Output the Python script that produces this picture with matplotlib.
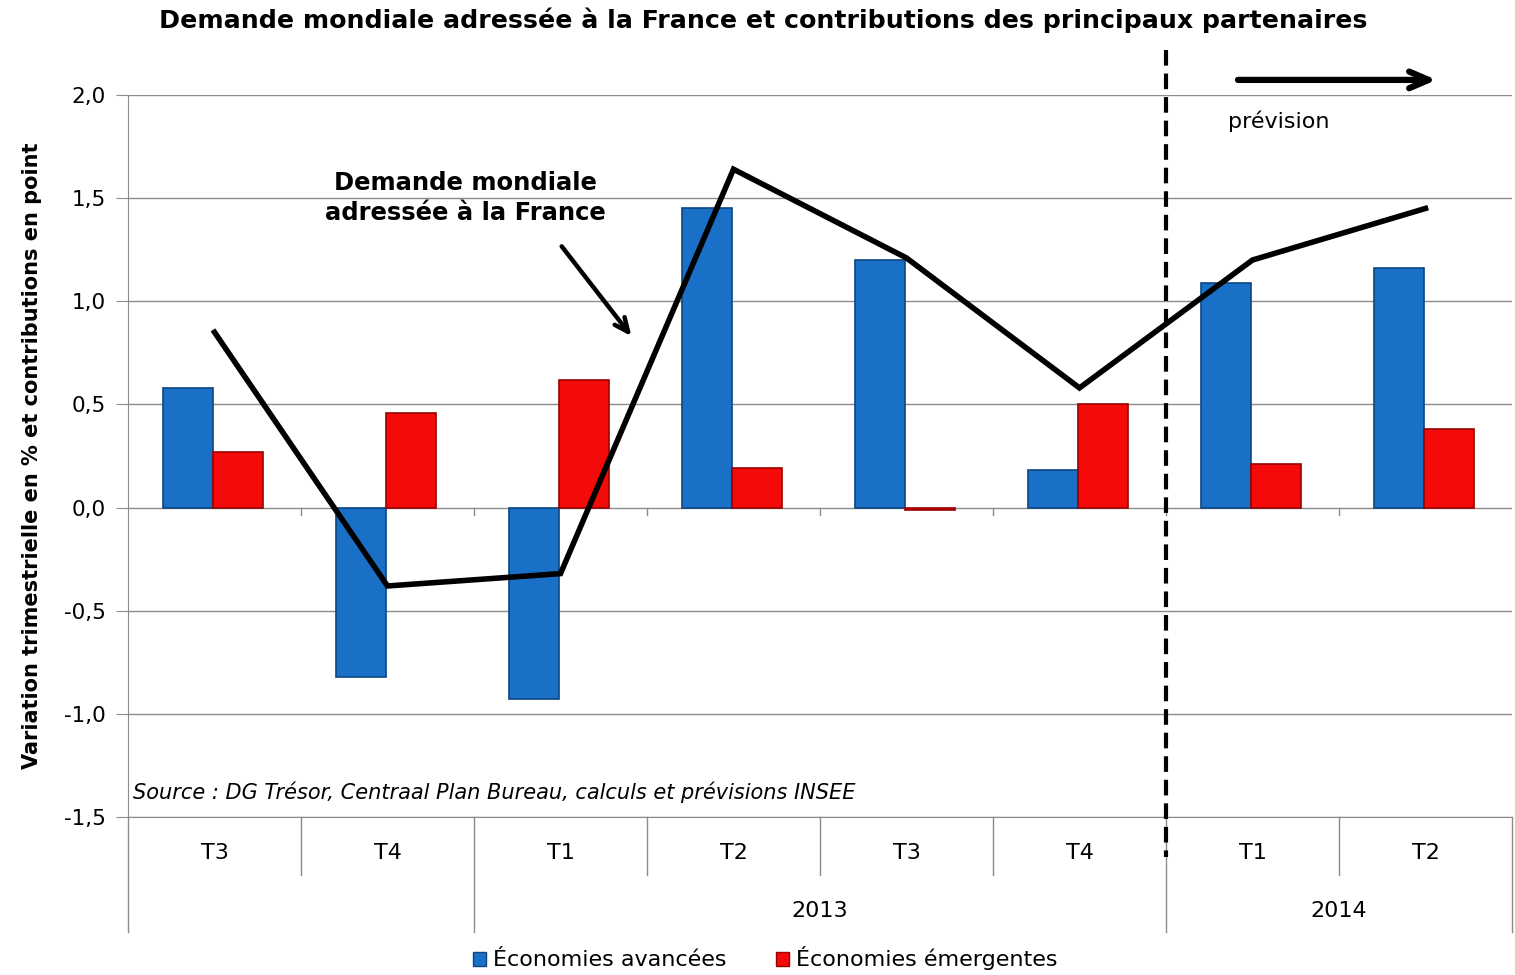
import numpy as np
import matplotlib
matplotlib.use("Agg")
import matplotlib.pyplot as plt
from matplotlib.patches import Patch
from matplotlib.ticker import FuncFormatter, MultipleLocator

plt.rcParams['font.family'] = ['DejaVu Sans']

# data
quarters = ['T3', 'T4', 'T1', 'T2', 'T3', 'T4', 'T1', 'T2']
years = ['', '2013', '2014']
year_spans = [(0, 2), (2, 6), (6, 8)]
avancees = [0.58, -0.82, -0.93, 1.45, 1.20, 0.18, 1.09, 1.16]
emergentes = [0.27, 0.46, 0.62, 0.19, -0.01, 0.50, 0.21, 0.38]
demande = [0.85, -0.38, -0.32, 1.64, 1.21, 0.58, 1.20, 1.45]

blue = '#1a6fc6'
red = '#f50a0a'

fig = plt.figure(figsize=(15.15, 9.75), dpi=100)
ax = fig.add_axes([0.0845, 0.162, 0.9135, 0.7406])

x = np.arange(len(quarters)) + 0.5
w = 0.29
ax.bar(x - 0.155, avancees, w, color=blue, edgecolor='#0c4680', linewidth=1.2, zorder=3)
ax.bar(x + 0.135, emergentes, w, color=red, edgecolor='#9a0000', linewidth=1.2, zorder=3)
ax.plot(x, demande, color='black', lw=4, zorder=4, solid_joinstyle='miter')

ax.set_xlim(0, len(quarters))
ax.set_ylim(-1.5, 2.0)
ax.yaxis.set_major_locator(MultipleLocator(0.5))
ax.yaxis.set_major_formatter(FuncFormatter(lambda v, p: ('%.1f' % v).replace('.', ',')))
ax.grid(axis='y', color='#8c8c8c', lw=1.0, zorder=0)
ax.tick_params(axis='y', length=9, color='#8c8c8c', labelsize=15.5, pad=7)
ax.set_xticks([])
for s in ['top', 'right']:
    ax.spines[s].set_visible(False)
ax.spines['left'].set_color('#8c8c8c')
ax.spines['bottom'].set_color('#8c8c8c')

ax.set_ylabel('Variation trimestrielle en % et contributions en point',
              fontsize=15, fontweight='bold')
ax.yaxis.set_label_coords(-0.062, 0.5)

# small ticks on the zero line
for b in range(1, len(quarters)):
    ax.plot([b, b], [0, -0.035], color='#8c8c8c', lw=1, zorder=2)

# category axis below the plot
tr = ax.get_xaxis_transform()
for b in range(len(quarters) + 1):
    long_sep = any(b == s or b == e for s, e in year_spans)
    y_end = -0.159 if long_sep else -0.080
    ax.plot([b, b], [0, y_end], transform=tr, color='#8c8c8c', lw=1, clip_on=False)
for i, q in enumerate(quarters):
    ax.text(i + 0.5, -0.050, q, transform=tr, ha='center', va='center', fontsize=16)
for (s, e), yr in zip(year_spans, years):
    ax.text((s + e) / 2, -0.130, yr, transform=tr, ha='center', va='center', fontsize=16)

# forecast separator
ax.plot([6, 6], [1.062, -0.055], transform=tr, color='black', lw=3,
        ls=(0, (3.75, 1.9)), clip_on=False, zorder=5)
ax.annotate('', xy=(7.58, 2.073), xytext=(6.40, 2.073),
            arrowprops=dict(arrowstyle='->,head_length=1.4,head_width=0.6', lw=4.5, color='black'),
            annotation_clip=False)
ax.text(6.36, 1.874, 'prévision', fontsize=16, ha='left', va='center')

# line annotation
ax.text(1.948, 1.50, 'Demande mondiale\nadressée à la France', fontsize=17.5,
        fontweight='bold', ha='center', va='center', linespacing=1.35)
ax.annotate('', xy=(2.92, 0.82), xytext=(2.497, 1.277),
            arrowprops=dict(arrowstyle='->,head_length=1.0,head_width=0.45', lw=3.2, color='black'))

ax.text(0.03, -1.38, 'Source : DG Trésor, Centraal Plan Bureau, calculs et prévisions INSEE',
        fontsize=15, style='italic', ha='left', va='center')

fig.suptitle('Demande mondiale adressée à la France et contributions des principaux partenaires',
             x=0.504, y=0.979, va='center', fontsize=18.2, fontweight='bold')

handles = [Patch(facecolor=blue, edgecolor='#0c4680'), Patch(facecolor=red, edgecolor='#9a0000')]
fig.legend(handles, ['Économies avancées', 'Économies émergentes'], loc='center',
           bbox_to_anchor=(0.505, 0.017), ncol=2, frameon=False, fontsize=16,
           handlelength=0.6, handleheight=0.6, handletextpad=0.3, columnspacing=2.2)

fig.savefig('out.png', dpi=100)
